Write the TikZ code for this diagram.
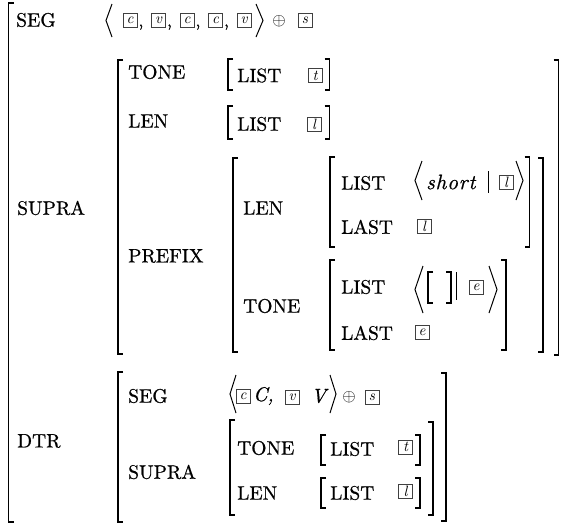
\documentclass[tikz,border=0pt]{standalone}
\usepackage{fontspec}
\setmainfont{lmroman10-regular}[Extension=.otf, ItalicFont=lmroman10-italic, BoldFont=lmroman10-bold]
\newcommand\labsize{\fontsize{19.5}{22}\selectfont\addfontfeatures{FakeBold=0.7}}
\newcommand\lbr[3]{\draw[brk] (#1+5,#2) -- (#1,#2) -- (#1,#3) -- (#1+5,#3);}
\newcommand\rbr[3]{\draw[brk] (#1-5,#2) -- (#1,#2) -- (#1,#3) -- (#1-5,#3);}
\newcommand\langl[4]{\draw[ang] (#2,#3) -- (#1,{(#3+#4)/2}) -- (#2,#4);}
\newcommand\rangl[4]{\draw[ang] (#1,#3) -- (#2,{(#3+#4)/2}) -- (#1,#4);}
\tikzset{
  avmlab/.style={anchor=west, inner sep=0pt, font=\labsize},
  tagbox/.style={draw=black!75, line width=0.6pt, minimum width=14pt, minimum height=14pt, inner sep=0pt, font=\fontsize{15}{15}\selectfont\itshape},
  commanode/.style={anchor=base west, inner sep=0pt, font=\fontsize{18}{20}\selectfont\addfontfeatures{FakeBold=0.7}},
  itnode/.style={anchor=west, inner sep=0pt, font=\fontsize{20}{22}\selectfont\itshape\addfontfeatures{FakeBold=0.7}},
  opnode/.style={inner sep=0pt, font=\fontsize{16}{18}\selectfont},
  brk/.style={line width=1.3pt},
  ang/.style={line width=1pt},
  vbar/.style={line width=0.9pt},
}
\begin{document}
\begin{tikzpicture}[x=1pt,y=-1pt]
\useasboundingbox (0,0) rectangle (566,525);
% outer matrix
\lbr{8.5}{3}{522}
\node[avmlab] (seg) at (16,20) {SEG};
\langl{106}{112}{4}{37}
\node[tagbox] (a1) at (130,20) {c};
\node[commanode] (k1) at ([xshift=1pt,yshift=1pt]a1.south east) {,};
\node[tagbox] (a2) at (158.5,20) {v};
\node[commanode] (k2) at ([xshift=1pt,yshift=1pt]a2.south east) {,};
\node[tagbox] (a3) at (187,20) {c};
\node[commanode] (k3) at ([xshift=1pt,yshift=1pt]a3.south east) {,};
\node[tagbox] (a4) at (215.5,20) {c};
\node[commanode] (k4) at ([xshift=1pt,yshift=1pt]a4.south east) {,};
\node[tagbox] (a5) at (244,20) {v};
\rangl{256}{263}{4}{37}
\node[opnode] (op1) at (279,21) {$\oplus$};
\node[tagbox] (a6) at (305,20) {s};

\node[avmlab] (supra) at (17,208) {SUPRA};
\lbr{118}{60}{354}
\rbr{558.5}{60}{355}
\node[avmlab] (tone1) at (128,72) {TONE};
\lbr{228}{59}{90}
\node[avmlab] (list1) at (237,75.5) {LIST};
\node[tagbox] (b1) at (315,75.5) {t};
\rbr{329.5}{59}{90}
\node[avmlab] (len1) at (128,121) {LEN};
\lbr{228}{106}{139}
\node[avmlab] (list2) at (237,124) {LIST};
\node[tagbox] (b2) at (314,124) {l};
\rbr{329.5}{106}{139}

\node[avmlab] (prefix) at (128,256) {PREFIX};
\lbr{233}{158}{352}
\rbr{543}{158}{352}
\node[avmlab] (len2) at (243,208) {LEN};
\lbr{330}{157}{247}
\rbr{529.5}{157}{247}
\node[avmlab] (list3) at (341,183) {LIST};
\langl{415}{422}{161}{200}
\node[anchor=west, inner sep=0pt, font=\fontsize{21}{23}\selectfont\itshape\addfontfeatures{LetterSpace=4,FakeBold=0.7}] (short) at (426,182) {short};
\draw[vbar] (488,171) -- (488,193);
\node[tagbox] (b3) at (506,182) {l};
\rangl{516}{523}{161}{200}
\node[avmlab] (last1) at (341,227) {LAST};
\node[tagbox] (b4) at (424,226) {l};

\node[avmlab] (tone2) at (243,306) {TONE};
\lbr{330}{260}{350}
\rbr{506}{260}{350}
\node[avmlab] (list4) at (341,287) {LIST};
\langl{415}{423}{266}{313}
\lbr{428}{272}{303}
\rbr{451}{272}{303}
\draw[vbar] (456,272) -- (456,300);
\node[tagbox] (b5) at (476,287) {e};
\rangl{489}{497}{266}{313}
\node[avmlab] (last2) at (341,333) {LAST};
\node[tagbox] (b6) at (422,332) {e};

% DTR
\node[avmlab] (dtr) at (17,441) {DTR};
\lbr{118}{372}{522}
\rbr{446}{373}{521}
\node[avmlab] (seg2) at (128,396) {SEG};
\langl{230}{236}{375}{413}
\node[tagbox] (d1) at (243,396) {c};
\node[itnode] (cc) at (253,396) {C,};
\node[tagbox] (d2) at (292,397) {v};
\node[itnode] (vv) at (311,396) {V};
\rangl{330}{336}{375}{413}
\node[opnode] (op2) at (349,397) {$\oplus$};
\node[tagbox] (d3) at (372,397) {s};
\node[avmlab] (supra2) at (128,472) {SUPRA};
\lbr{230}{420}{515}
\rbr{433}{422}{515}
\node[avmlab] (tone3) at (237,448) {TONE};
\lbr{321}{435}{465}
\node[avmlab] (list5) at (330,449) {LIST};
\node[tagbox] (d4) at (405.5,447) {t};
\rbr{420}{435}{465}
\node[avmlab] (len3) at (237,493) {LEN};
\lbr{321}{478}{508}
\node[avmlab] (list6) at (330,493) {LIST};
\node[tagbox] (d5) at (405.5,491) {l};
\rbr{420}{478}{508}
\end{tikzpicture}
\end{document}
